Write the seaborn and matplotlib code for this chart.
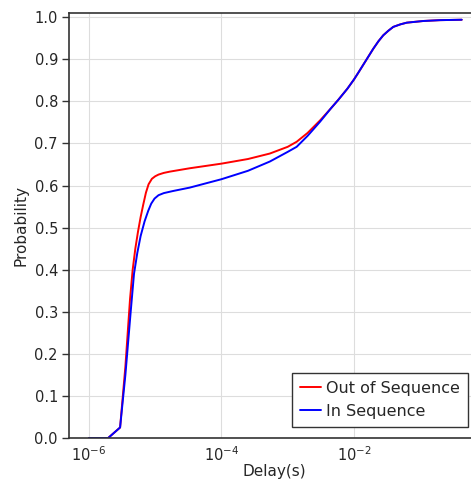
import matplotlib
matplotlib.use("Agg")
import matplotlib.pyplot as plt
import numpy as np
import pandas as pd
import seaborn as sns

# log10 of delay (s) and cumulative probability
log_delay_out = [-6.0, -5.71, -5.53, -5.45, -5.38, -5.34, -5.30, -5.26, -5.22, -5.18,
                 -5.14, -5.10, -5.05, -5.0, -4.95, -4.87, -4.78, -4.48, -4.0, -3.6,
                 -3.27, -3.0, -2.865, -2.7, -2.51, -2.35, -2.24, -2.1, -2.0, -1.935,
                 -1.82, -1.709, -1.63, -1.558, -1.48, -1.407, -1.3, -1.204, -1.08, -0.954,
                 -0.702, -0.374]
prob_out = [0.0, 0.0, 0.025, 0.17, 0.33, 0.40, 0.45, 0.49, 0.525, 0.555,
            0.583, 0.603, 0.616, 0.622, 0.626, 0.630, 0.633, 0.641, 0.652, 0.663,
            0.676, 0.692, 0.704, 0.725, 0.755, 0.783, 0.803, 0.830, 0.852, 0.868,
            0.897, 0.925, 0.943, 0.957, 0.968, 0.977, 0.983, 0.987, 0.989, 0.991,
            0.993, 0.994]

log_delay_in = [-6.0, -5.71, -5.53, -5.45, -5.37, -5.32, -5.27, -5.22, -5.16, -5.105,
                -5.06, -5.01, -4.95, -4.87, -4.73, -4.48, -4.0, -3.6, -3.27, -3.0,
                -2.865, -2.7, -2.51, -2.35, -2.24, -2.1, -2.0, -1.935, -1.82, -1.709,
                -1.63, -1.558, -1.48, -1.407, -1.3, -1.204, -1.08, -0.954, -0.702, -0.374]
prob_in = [0.0, 0.0, 0.025, 0.15, 0.30, 0.39, 0.44, 0.48, 0.515, 0.540,
           0.557, 0.569, 0.577, 0.582, 0.587, 0.595, 0.615, 0.635, 0.657, 0.680,
           0.692, 0.718, 0.752, 0.783, 0.803, 0.830, 0.852, 0.868, 0.897, 0.925,
           0.943, 0.957, 0.968, 0.977, 0.983, 0.987, 0.989, 0.991, 0.993, 0.994]

series_names = ["Out of Sequence", "In Sequence"]
colors = {"Out of Sequence": "red", "In Sequence": "blue"}

df = pd.concat([
    pd.DataFrame({"Delay": np.power(10.0, log_delay_out), "Probability": prob_out,
                  "serie": series_names[0]}),
    pd.DataFrame({"Delay": np.power(10.0, log_delay_in), "Probability": prob_in,
                  "serie": series_names[1]}),
], ignore_index=True)

sns.set_style("whitegrid", {"axes.edgecolor": "#333333", "grid.color": "#dddddd"})
plt.rcParams["font.family"] = ["DejaVu Sans"]

fig = plt.figure(figsize=(4.71, 4.86), dpi=100)
ax = fig.add_axes([69 / 471, 48 / 486, (479 - 69) / 471, (438 - 13) / 486])

sns.lineplot(data=df, x="Delay", y="Probability", hue="serie", palette=colors,
             hue_order=series_names, linewidth=1.4, sort=False, estimator=None, ax=ax)

ax.set_xscale("log")
ax.set_xlim(5e-7, 10 ** -0.113)
ax.set_ylim(0, 1.01)
ax.set_xticks([1e-6, 1e-4, 1e-2])
ax.xaxis.set_minor_locator(matplotlib.ticker.NullLocator())
ax.set_yticks(np.arange(0, 1.01, 0.1))
ax.set_yticklabels([f"{v:.1f}" for v in np.arange(0, 1.01, 0.1)])
ax.tick_params(axis="y", left=True, length=5, width=1, color="#333333", labelsize=10.5, pad=3)
ax.tick_params(axis="x", bottom=False, labelsize=10.5, pad=2)
ax.set_xlabel("Delay(s)", fontsize=11, labelpad=0)
ax.set_ylabel("Probability", fontsize=11)
for s in ["left", "bottom", "top"]:
    ax.spines[s].set_linewidth(1.2)
ax.spines["right"].set_visible(False)

leg = ax.legend(title=None, loc="lower right", fontsize=11.5, frameon=True, fancybox=False,
                edgecolor="#333333", framealpha=1, handlelength=1.3, handletextpad=0.3,
                borderpad=0.5, borderaxespad=0.7)
leg.get_frame().set_linewidth(1.0)

fig.savefig("out.png", dpi=100)
